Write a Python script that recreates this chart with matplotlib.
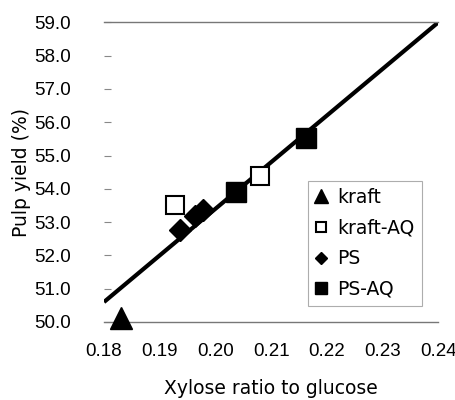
import matplotlib
matplotlib.use("Agg")
import matplotlib.pyplot as plt

# Data
kraft_x = [0.1830]
kraft_y = [50.13]
kraftaq_x = [0.1927, 0.2080]
kraftaq_y = [53.5, 54.4]
ps_x = [0.1936, 0.1963, 0.1978]
ps_y = [52.76, 53.17, 53.36]
psaq_x = [0.2037, 0.2163]
psaq_y = [53.92, 55.52]
fit_x = [0.18, 0.24]
fit_y = [50.6, 59.0]

x_ticks = [0.18, 0.19, 0.20, 0.21, 0.22, 0.23, 0.24]
y_ticks = [50.0, 51.0, 52.0, 53.0, 54.0, 55.0, 56.0, 57.0, 58.0, 59.0]

plt.rcParams['font.family'] = ['Liberation Sans', 'DejaVu Sans']
FS = 13.5
WIDE = ['DejaVu Sans']

fig = plt.figure(figsize=(4.56, 4.0), dpi=100)
ax = fig.add_axes([0.228, 0.195, 0.733, 0.749])

ax.plot(fit_x, fit_y, color='black', lw=3, zorder=2, solid_capstyle='butt')
ax.plot(kraft_x, kraft_y, linestyle='none', marker='^', ms=16, color='black', label='kraft', zorder=3, clip_on=False)
ax.plot(kraftaq_x, kraftaq_y, linestyle='none', marker='s', ms=13, mfc='white', mec='black', mew=1.5, label='kraft-AQ', zorder=3)
ax.plot(ps_x, ps_y, linestyle='none', marker='D', ms=11, color='black', label='PS', zorder=3)
ax.plot(psaq_x, psaq_y, linestyle='none', marker='s', ms=14, color='black', label='PS-AQ', zorder=3)

ax.set_xlim(0.18, 0.24)
ax.set_ylim(50.0, 59.0)
ax.set_xticks(x_ticks)
ax.set_xticklabels([f"{v:.2f}" for v in x_ticks])
ax.set_yticks(y_ticks)
ax.set_yticklabels([f"{v:.1f}" for v in y_ticks])
ax.tick_params(axis='both', labelsize=FS, length=0, colors='#888888', labelcolor='black')
ax.tick_params(axis='x', pad=15)
ax.yaxis.set_tick_params(which='major', direction='in', length=5, width=0.8, pad=24)

for s in ['top', 'bottom']:
    ax.spines[s].set_color('#777777')
    ax.spines[s].set_linewidth(1.0)
for s in ['left', 'right']:
    ax.spines[s].set_visible(False)

ax.set_xlabel('Xylose ratio to glucose', fontsize=FS, labelpad=14, family=WIDE)
ax.set_ylabel('Pulp yield (%)', fontsize=FS, labelpad=2, family=WIDE)

leg = ax.legend(loc='lower right', bbox_to_anchor=(0.952, 0.052),
                prop={'family': WIDE, 'size': FS},
                markerscale=0.6, handlelength=0.6, handletextpad=0.55,
                labelspacing=0.62, borderpad=0.4, borderaxespad=0,
                frameon=True, fancybox=False)
leg.get_frame().set_edgecolor('#999999')
leg.get_frame().set_linewidth(0.8)

fig.savefig('out.png', dpi=100)
